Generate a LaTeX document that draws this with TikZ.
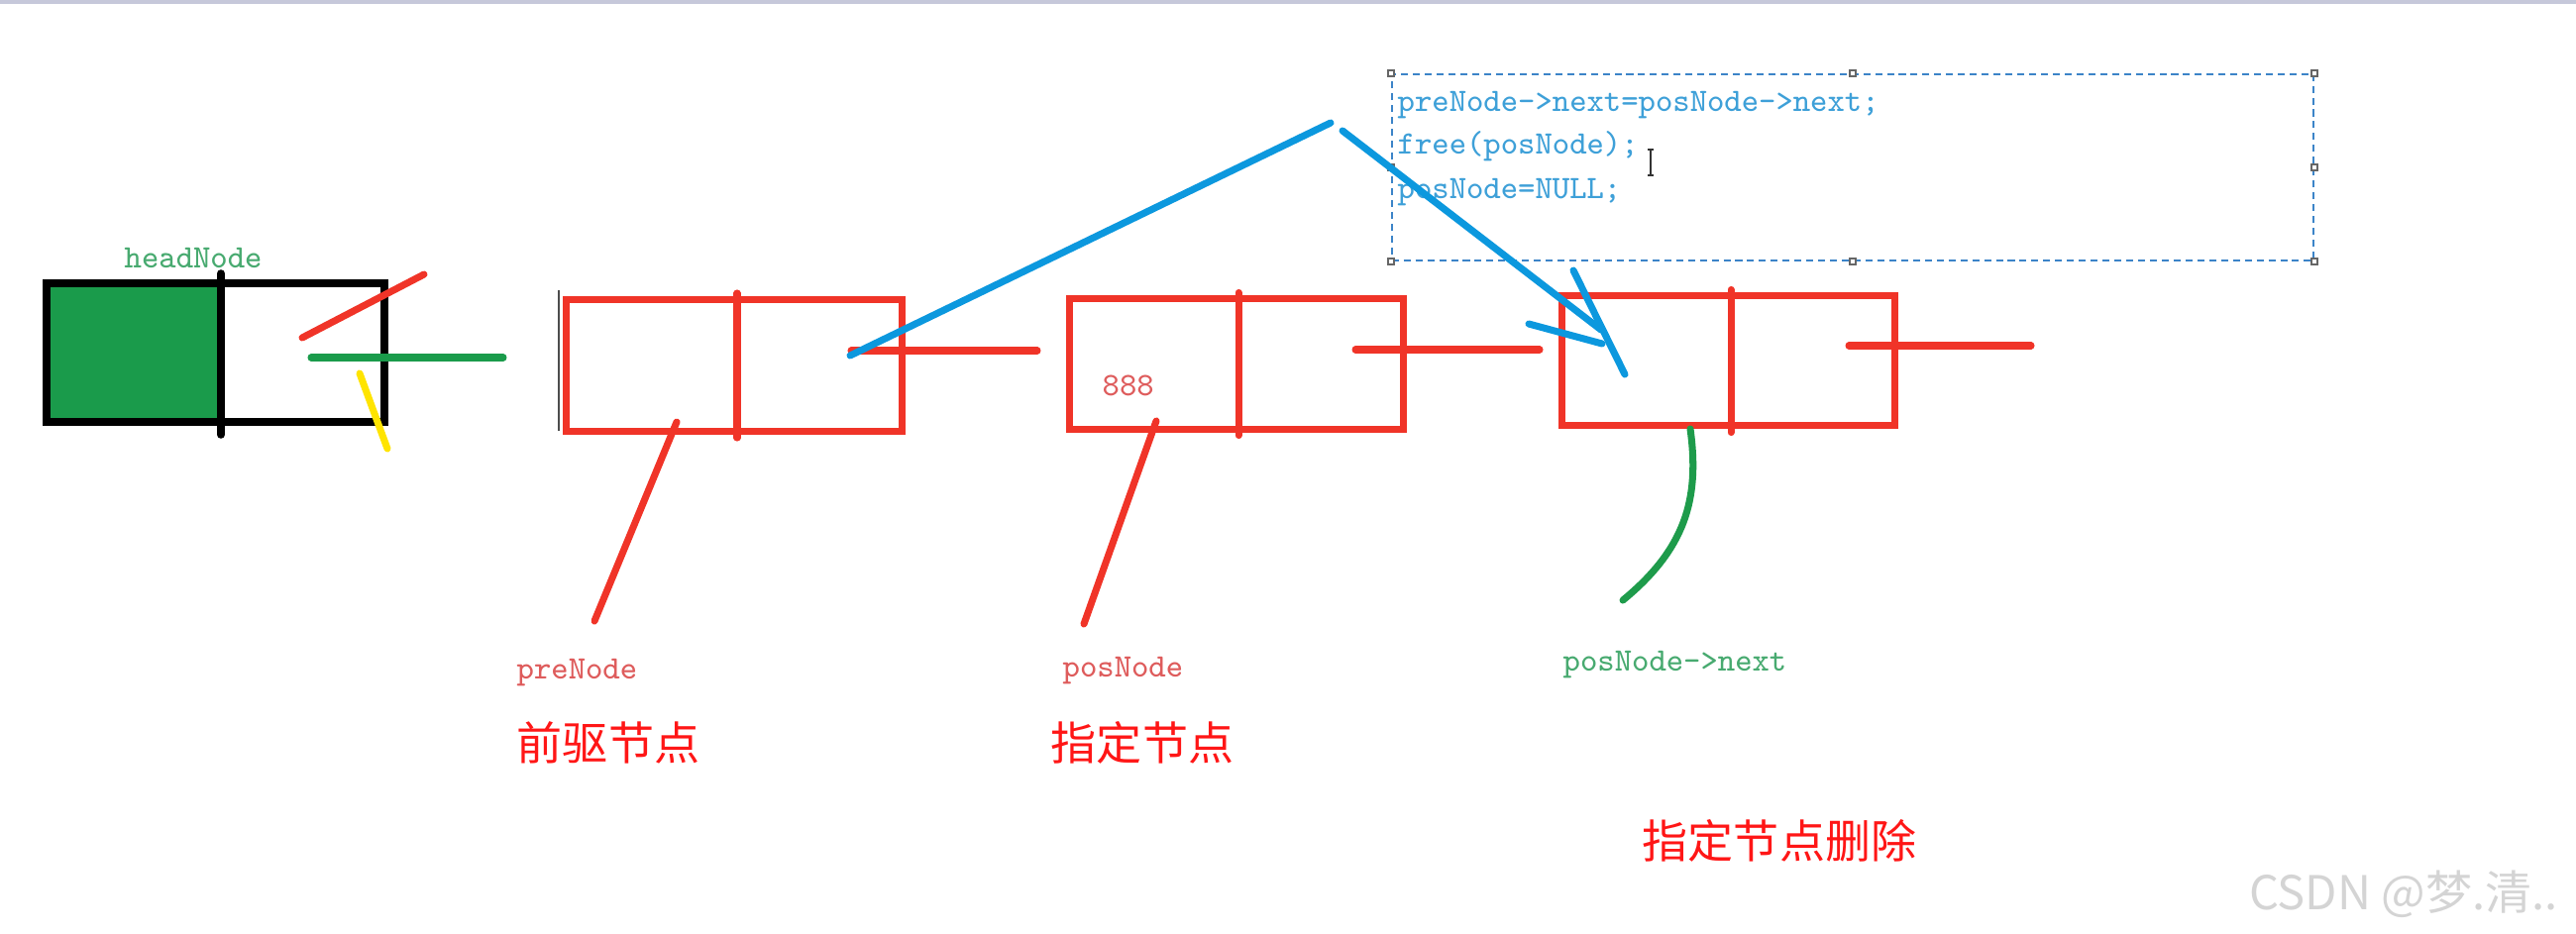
\documentclass[tikz,border=0pt]{standalone}
\usepackage{fontspec}
\newfontfamily\cjk{Noto Sans CJK SC}
\usetikzlibrary{calc}
\definecolor{lred}{RGB}{240,52,40}
\definecolor{hgreen}{RGB}{26,155,75}
\definecolor{lblue}{RGB}{12,152,222}
\definecolor{lyellow}{RGB}{255,228,0}
\definecolor{cgreen}{RGB}{30,155,75}
\definecolor{tred}{RGB}{222,92,92}
\definecolor{tgreen}{RGB}{72,170,112}
\definecolor{codeblue}{RGB}{62,160,216}
\definecolor{dashblue}{RGB}{60,132,200}
\definecolor{cnred}{RGB}{255,22,22}
\definecolor{wmgray}{RGB}{212,212,212}
\definecolor{topbar}{RGB}{198,200,218}
\begin{document}
\begin{tikzpicture}[x=0.01cm,y=-0.01cm,
  listbox/.style={draw=lred, line width=2pt, minimum height=1.32cm, inner sep=0pt, outer sep=0pt},
  stroke/.style={line width=2pt, line cap=round},
  monotxt/.style={font=\ttfamily\fontsize{9.4}{12}\selectfont, anchor=base west, inner sep=0pt},
  cntxt/.style={font=\cjk\fontsize{13.1}{15}\selectfont, text=cnred, inner sep=0pt},
  handle/.style={draw=gray!80!black, fill=white, line width=0.5pt, minimum size=0.06cm, inner sep=0pt}
]
\useasboundingbox (0,0) rectangle (2600,942);
\fill[topbar] (0,0) rectangle (2600,4);

% head node
\node[draw=black, line width=2.2pt, minimum width=3.41cm, minimum height=1.40cm, inner sep=0pt,
  path picture={\fill[hgreen] (path picture bounding box.north west) rectangle ($(path picture bounding box.south)+(5.5,0)$);}]
  (head) at (217.5,356) {};
\draw[black, line width=2.2pt, line cap=round] ($(head.north)+(5.5,-6)$) -- ($(head.south)+(5.5,9)$);
\node[monotxt, text=tgreen] (headlbl) at (125,270) {headNode};

% head strokes
\coordinate (hr1) at (305,341); \coordinate (hr2) at (428,277);
\coordinate (hg1) at (314,361); \coordinate (hg2) at (508,361);
\coordinate (hy1) at (363,377); \coordinate (hy2) at (391,453);
\draw[stroke, lred] (hr1) -- (hr2);
\draw[stroke, hgreen] (hg1) -- (hg2);
\draw[stroke, lyellow] (hy1) -- (hy2);

% thin cursor-like line
\coordinate (tl1) at (564,293); \coordinate (tl2) at (564,435);
\draw[gray!60!black, line width=0.6pt] (tl1) -- (tl2);

% list boxes
\node[listbox, minimum width=3.38cm] (p1) at (741,369) {};
\draw[stroke, lred] ($(p1.north)+(3,-7)$) -- ($(p1.south)+(3,7)$);
\node[listbox, minimum width=3.37cm] (p2) at (1248,367.5) {};
\draw[stroke, lred] ($(p2.north)+(2,-6)$) -- ($(p2.south)+(2,6)$);
\node[listbox, minimum width=3.36cm, minimum height=1.31cm] (p3) at (1744.5,364) {};
\draw[stroke, lred] ($(p3.north)+(2.5,-6)$) -- ($(p3.south)+(2.5,7)$);

\node[monotxt, text=tred] (v888) at (1112,399) {888};

% red connectors
\coordinate (c1a) at (859,354); \coordinate (c1b) at (1047,354);
\coordinate (c2a) at (1368,353); \coordinate (c2b) at (1554,353);
\coordinate (c3a) at (1866,349); \coordinate (c3b) at (2050,349);
\draw[stroke, lred] (c1a) -- (c1b);
\draw[stroke, lred] (c2a) -- (c2b);
\draw[stroke, lred] (c3a) -- (c3b);

% pointers
\coordinate (pp1) at (683,426); \coordinate (pp2) at (600,627);
\coordinate (pq1) at (1167,425); \coordinate (pq2) at (1094,630);
\draw[stroke, lred] (pp1) -- (pp2);
\draw[stroke, lred] (pq1) -- (pq2);
\node[monotxt, text=tred] (prelbl) at (521,685) {preNode};
\node[monotxt, text=tred] (poslbl) at (1072,683) {posNode};

% green curve
\coordinate (g1) at (1706,433); \coordinate (g2) at (1638,606);
\draw[stroke, cgreen] (g1) .. controls (1716,505) and (1700,555) .. (g2);
\node[monotxt, text=tgreen] (nextlbl) at (1577,677) {posNode->next};

% code box
\node[draw=dashblue, line width=0.55pt, dash pattern=on 2pt off 1.4pt, minimum width=9.30cm, minimum height=1.88cm, inner sep=0pt] (codebox) at (1870,169) {};
\foreach \a in {north west,north,north east,west,east,south west,south,south east}
  \node[handle] at (codebox.\a) {};
\node[monotxt, text=codeblue] (code1) at (1410,112) {preNode->next=posNode->next;};
\node[monotxt, text=codeblue] (code2) at (1410,155) {free(posNode);};
\node[monotxt, text=codeblue] (code3) at (1410,200) {posNode=NULL;};

% I-beam cursor
\coordinate (ib1) at (1666,151); \coordinate (ib2) at (1666,177);
\draw[black!80, line width=0.5pt] (ib1) -- (ib2)
  ($(ib1)+(-3,0)$) -- ($(ib1)+(3,0)$)
  ($(ib2)+(-3,0)$) -- ($(ib2)+(3,0)$);

% blue strokes
\coordinate (b0) at (858,359); \coordinate (b1) at (1343,124);
\coordinate (b2) at (1355,132); \coordinate (b3) at (1616,333);
\coordinate (a1) at (1588,273); \coordinate (a2) at (1640,378);
\coordinate (a3) at (1543,327); \coordinate (a4) at (1617,347);
\draw[stroke, lblue] (b0) -- (b1);
\draw[stroke, lblue] (b2) -- (b3);
\draw[stroke, lblue] (a1) -- (a2);
\draw[stroke, lblue] (a3) -- (a4);

% Chinese labels
\node[cntxt] (cn1) at (614,750) {前驱节点};
\node[cntxt] (cn2) at (1153,750) {指定节点};
\node[cntxt] (cn3) at (1796,849) {指定节点删除};

% watermark
\node[font=\cjk\fontsize{13.4}{15}\selectfont, text=wmgray, inner sep=0pt] (wm) at (2426,903) {CSDN @梦.清..};
\end{tikzpicture}
\end{document}
